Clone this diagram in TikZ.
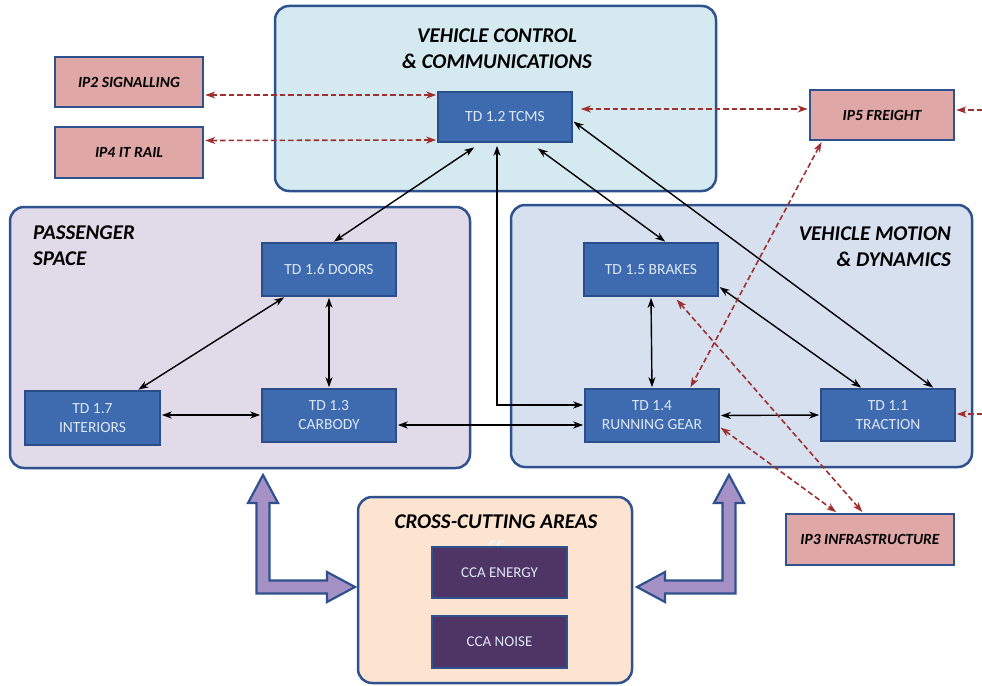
\documentclass[tikz,border=0pt]{standalone}
\usepackage{fontspec}
\setmainfont{Carlito}
\usetikzlibrary{arrows.meta,calc}

\definecolor{frameblue}{RGB}{47,82,143}
\definecolor{vccfill}{RGB}{212,234,240}
\definecolor{passfill}{RGB}{225,218,232}
\definecolor{motionfill}{RGB}{214,224,239}
\definecolor{ccafill}{RGB}{252,228,208}
\definecolor{tdfill}{RGB}{62,106,176}
\definecolor{tdborder}{RGB}{44,78,136}
\definecolor{tdtext}{RGB}{222,232,244}
\definecolor{ipfill}{RGB}{224,167,167}
\definecolor{linkred}{RGB}{160,48,48}
\definecolor{ccabox}{RGB}{78,53,102}
\definecolor{blockfill}{RGB}{165,145,195}

\tikzset{
  >={Stealth[length=10pt,width=7pt,inset=3pt]},
  area/.style={draw=frameblue, line width=2.5pt, rounded corners=14pt, inner sep=0pt},
  areatitle/.style={font=\fontsize{21}{26}\selectfont\bfseries\itshape, text=black, inner sep=0pt},
  td/.style={draw=tdborder, fill=tdfill, line width=1.6pt, text=tdtext,
    font=\fontsize{15.5}{19}\selectfont, align=center,
    minimum width=134pt, minimum height=53pt, inner sep=2pt},
  ip/.style={draw=frameblue, fill=ipfill, line width=2.5pt,
    font=\fontsize{15.5}{17}\selectfont\bfseries\itshape, minimum height=50pt, inner sep=2pt},
  ccabox/.style={draw=frameblue, fill=ccabox, line width=1.2pt, text=tdtext,
    font=\fontsize{15}{17}\selectfont, minimum width=135pt, minimum height=51pt},
  link/.style={draw=black, line width=1.4pt, <->, shorten <=1pt, shorten >=1pt},
  iplink/.style={draw=linkred, line width=1.6pt, dash pattern=on 5.5pt off 3pt, <->,
    shorten <=1pt, shorten >=1pt},
  inlink/.style={draw=linkred, line width=1.6pt, dash pattern=on 5.5pt off 3pt, ->, shorten >=1pt},
  block/.style={draw=frameblue, fill=blockfill, line width=2.2pt, line join=miter}
}

\begin{document}
\begin{tikzpicture}[x=1pt,y=-1pt]
\useasboundingbox (0,0) rectangle (982,685);

% ---------- functional areas ----------
\node[area, fill=vccfill, minimum width=441pt, minimum height=185pt] (vcc) at (495.5,98.5) {};
\node[area, fill=passfill, minimum width=460pt, minimum height=261pt] (pass) at (240,337.5) {};
\node[area, fill=motionfill, minimum width=461pt, minimum height=262pt] (motion) at (741.5,336) {};
\node[area, fill=ccafill, minimum width=274pt, minimum height=186pt] (cca) at (495,590) {};

\node[areatitle, align=center] (vcctitle) at (497,49) {VEHICLE CONTROL\\\& COMMUNICATIONS};
\node[areatitle, align=left, anchor=west] (passtitle) at (33,246) {PASSENGER\\SPACE};
\node[areatitle, align=right, anchor=east] (motiontitle) at (951,247) {VEHICLE MOTION\\\& DYNAMICS};
\node[areatitle] (ccatitle) at (496,522) {CROSS-CUTTING AREAS};

% ---------- technology demonstrators ----------
\node[td, minimum height=50pt] (tcms) at (505,117) {TD 1.2 TCMS};
\node[td] (doors) at (329,269.5) {TD 1.6 DOORS};
\node[td, minimum width=135pt, minimum height=54pt] (interiors) at (92.5,418) {TD 1.7\\INTERIORS};
\node[td] (carbody) at (329,415.5) {TD 1.3\\CARBODY};
\node[td] (brakes) at (651,269.5) {TD 1.5 BRAKES};
\node[td] (rgear) at (652,415.5) {TD 1.4\\RUNNING GEAR};
\node[td, minimum height=52pt] (traction) at (888,415) {TD 1.1\\TRACTION};

% ---------- other innovation programmes ----------
\node[ip, minimum width=148pt] (ip2) at (129,82) {IP2 SIGNALLING};
\node[ip, minimum width=148pt, minimum height=51pt] (ip4) at (129,152.5) {IP4 IT RAIL};
\node[ip, minimum width=144pt] (ip5) at (882,115) {IP5 FREIGHT};
\node[ip, minimum width=168pt, minimum height=51pt] (ip3) at (870,539.5) {IP3 INFRASTRUCTURE};

% ---------- cross-cutting activities ----------
\node[text=white, font=\fontsize{15}{17}\selectfont, inner sep=0pt] (ccghost) at (497,546) {CC};
\node[ccabox] (energy) at (499.5,572.5) {CCA ENERGY};
\node[ccabox, minimum height=52pt] (noise) at (499.5,642) {CCA NOISE};

% ---------- links between demonstrators ----------
\draw[link] ([xshift=4pt]doors.north) -- ([xshift=-30pt,yshift=-4pt]tcms.south);
\draw[link, shorten <=3pt] ([xshift=-8pt]tcms.south) |- ([yshift=10.5pt]rgear.west);
\draw[link] ([xshift=32pt,yshift=-5pt]tcms.south) -- ([xshift=15pt]brakes.north);
\draw[link] ([yshift=-4pt]tcms.east) -- ([xshift=46pt]traction.north);
\draw[link] ([xshift=-44pt]doors.south) -- ([xshift=45pt]interiors.north);
\draw[link] (doors.south) -- (carbody.north);
\draw[link] ([yshift=3pt]interiors.east) -- ([yshift=0.5pt]carbody.west);
\draw[link] ([yshift=-9.5pt]carbody.east) -- ([yshift=-9.5pt]rgear.west);
\draw[link] (brakes.south) -- (rgear.north);
\draw[link] (rgear.east) -- (traction.west);
\draw[link] ([yshift=-17pt]brakes.east) -- ([xshift=-26pt]traction.north);

% ---------- links to other programmes ----------
\coordinate (freightin) at (982,110);
\coordinate (tractionin) at (982,414);
\draw[iplink] ([yshift=-13pt]ip2.east) -- ([yshift=22pt]tcms.west);
\draw[iplink] ([yshift=12pt]ip4.east) -- ([yshift=-23pt]tcms.west);
\draw[iplink, shorten <=8pt] ([yshift=8pt]tcms.east) -- ([yshift=6pt]ip5.east -| ip5.west);
\draw[inlink] (freightin) -- ([yshift=5pt]ip5.east);
\draw[iplink] ([xshift=-60pt]ip5.south) -- ([xshift=38pt]rgear.north);
\draw[iplink] ([xshift=25pt,yshift=-2pt]brakes.south) -- ([xshift=-7pt]ip3.north);
\draw[iplink] ([yshift=-11.5pt]rgear.east) -- ([xshift=-33pt]ip3.north);
\draw[inlink] (tractionin) -- ([yshift=1pt]traction.east);

% ---------- block arrows from the cross-cutting areas ----------
\draw[block] (263,475) -- (278,503) -- (269.5,503) -- (269.5,580.5) -- (327,580.5)
  -- (327,572) -- (355,587) -- (327,602) -- (327,593.5) -- (256.5,593.5)
  -- (256.5,503) -- (248,503) -- cycle;
\draw[block] (729,475) -- (744,503) -- (735.5,503) -- (735.5,593.5) -- (665,593.5)
  -- (665,602) -- (637,587) -- (665,572) -- (665,580.5) -- (722.5,580.5)
  -- (722.5,503) -- (714,503) -- cycle;
\end{tikzpicture}
\end{document}
